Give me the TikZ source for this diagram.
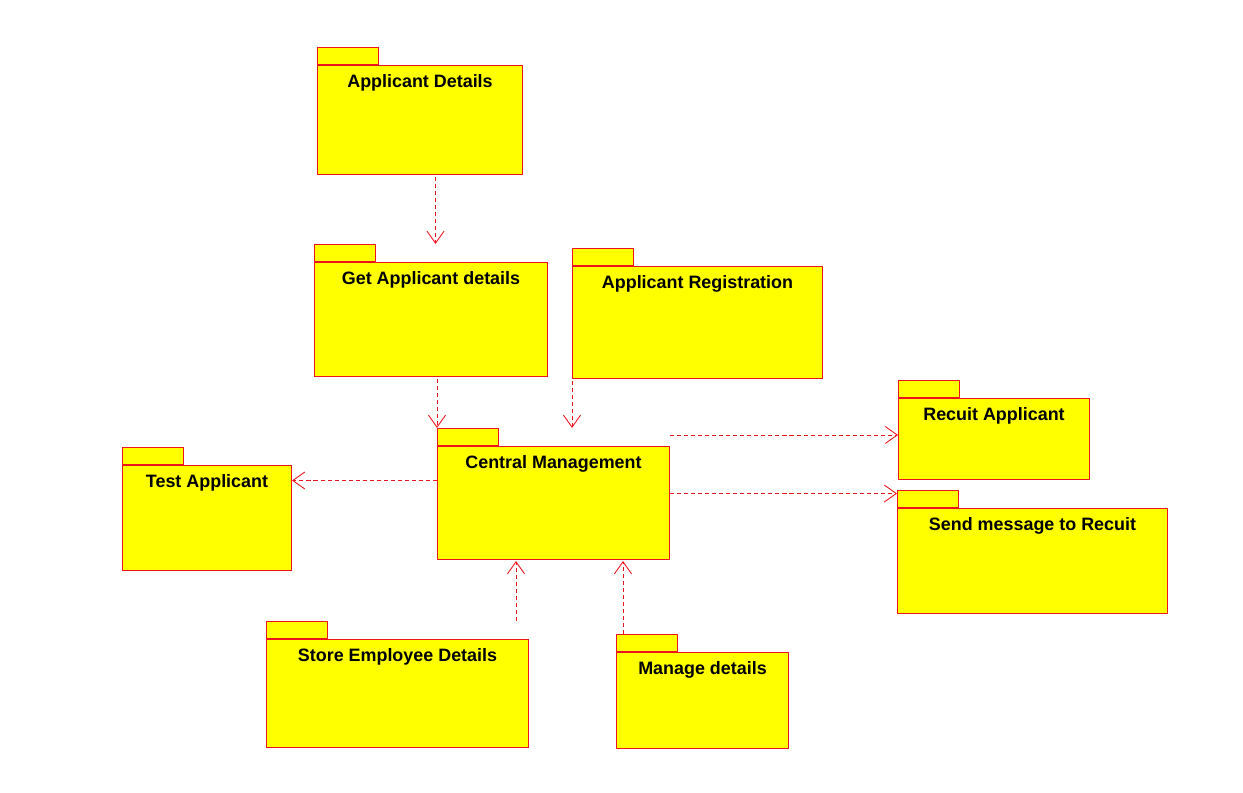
\documentclass[tikz,border=0pt]{standalone}
\usepackage{fontspec}
\setmainfont{Liberation Sans}
\usepackage{xcolor}
\usepackage{tikz}
\usetikzlibrary{arrows.meta, positioning, calc}
\definecolor{pkgred}{RGB}{235,20,30}
\definecolor{pkgyellow}{RGB}{255,255,0}
\tikzstyle{pkg} = [rectangle, draw=pkgred, fill=pkgyellow, line width=0.6pt, anchor=north west, inner sep=0pt]
\tikzstyle{pkgtab} = [rectangle, draw=pkgred, fill=pkgyellow, line width=0.6pt, anchor=south west, minimum width=1.22cm, minimum height=0.34cm, inner sep=0pt]
\tikzstyle{title} = [anchor=center, yshift=-0.36cm, font=\fontsize{10.2}{12}\selectfont\bfseries]
\tikzstyle{depend} = [draw=pkgred, line width=0.5pt, dash pattern=on 2.3pt off 1.7pt, -{Straight Barb[length=2.4mm, width=3.4mm]}]

\begin{document}
\begin{tikzpicture}[x=0.02cm, y=-0.02cm]
    \useasboundingbox (0,0) rectangle (1243,793);

    % Top packages
    \node[pkg, minimum width=4.10cm, minimum height=2.18cm, label={[title]north:Applicant Details}] (ad) at (317,65) {};
    \node[pkgtab] (adtab) at (ad.north west) {};
    \node[pkg, minimum width=4.66cm, minimum height=2.28cm, label={[title]north:Get Applicant details}] (gad) at (314,262) {};
    \node[pkgtab] (gadtab) at (gad.north west) {};
    \node[pkg, minimum width=5.00cm, minimum height=2.24cm, label={[title]north:Applicant Registration}] (reg) at (572,266) {};
    \node[pkgtab] (regtab) at (reg.north west) {};

    % Central package
    \node[pkg, minimum width=4.64cm, minimum height=2.26cm, label={[title]north:Central Management}] (cm) at (437,446) {};
    \node[pkgtab] (cmtab) at (cm.north west) {};

    % Side packages
    \node[pkg, minimum width=3.38cm, minimum height=2.10cm, label={[title]north:Test Applicant}] (test) at (122,465) {};
    \node[pkgtab] (testtab) at (test.north west) {};
    \node[pkg, minimum width=3.82cm, minimum height=1.62cm, label={[title]north:Recuit Applicant}] (rec) at (898,398) {};
    \node[pkgtab] (rectab) at (rec.north west) {};
    \node[pkg, minimum width=5.40cm, minimum height=2.10cm, label={[title]north:Send message to Recuit}] (msg) at (897,508) {};
    \node[pkgtab] (msgtab) at (msg.north west) {};

    % Bottom packages
    \node[pkg, minimum width=5.24cm, minimum height=2.16cm, label={[title]north:Store Employee Details}] (store) at (266,639) {};
    \node[pkgtab] (storetab) at (store.north west) {};
    \node[pkg, minimum width=3.44cm, minimum height=1.92cm, label={[title]north:Manage details}] (man) at (616,652) {};
    \node[pkgtab] (mantab) at (man.north west) {};

    % Dependencies
    \draw[depend] ([xshift=0.31cm, yshift=-0.04cm]ad.south) -- ([xshift=0.31cm]ad.south |- gadtab.north);
    \draw[depend] ([yshift=-0.04cm]gad.south -| cmtab.north west) -- (cmtab.north west);
    \draw[depend] ([yshift=-0.04cm]reg.south west) -- (reg.south west |- cmtab.north);
    \draw[depend] ([yshift=0.22cm]cm.north east) -- ([yshift=0.22cm]cm.north east -| rec.west);
    \draw[depend] ([yshift=0.19cm]cm.east) -- ([yshift=0.19cm]cm.east -| msg.west);
    \draw[depend] ([yshift=0.45cm]cm.west) -- ([yshift=0.45cm]cm.west -| test.east);
    \draw[depend] ([xshift=-0.26cm]store.north east |- storetab.north) -- ([xshift=-0.26cm, yshift=-0.02cm]store.north east |- cm.south);
    \draw[depend] ([xshift=0.14cm]mantab.north west) -- ([xshift=0.14cm, yshift=-0.02cm]mantab.north west |- cm.south);

\end{tikzpicture}
\end{document}
